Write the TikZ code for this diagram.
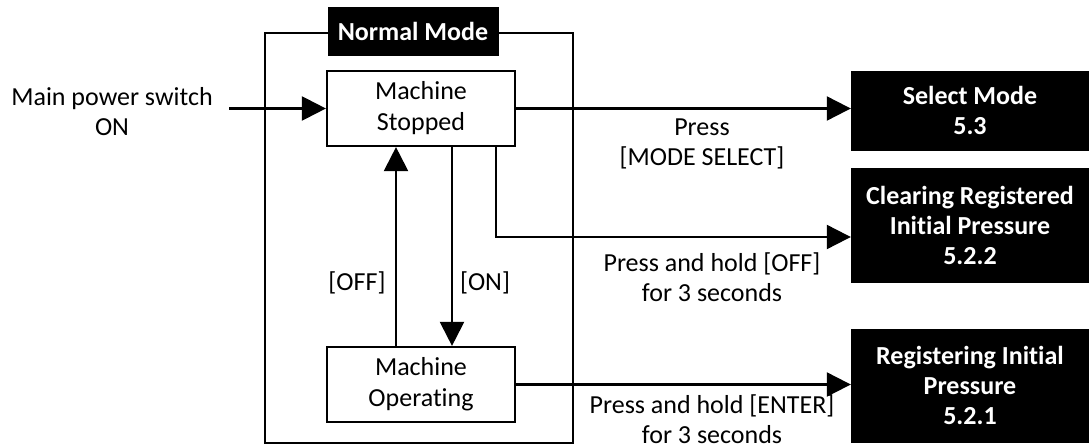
\documentclass[tikz,border=0pt]{standalone}
\usepackage{fontspec}
\setmainfont[Ligatures={NoCommon}]{Carlito}
\usetikzlibrary{arrows.meta,calc}
\begin{document}
\begin{tikzpicture}[x=1pt,y=-1pt,
  lw/.style={line width=2.2pt},
  arr/.style={lw,-{Triangle[length=24pt,width=24pt]}},
  state/.style={draw,lw,fill=white,minimum width=188pt,minimum height=75pt,align=center,font=\fontsize{26}{31}\selectfont,inner sep=0pt},
  dest/.style={draw=black,fill=black,text=white,align=center,font=\fontsize{26}{30}\selectfont\bfseries,inner sep=0pt,minimum width=238pt},
  lbl/.style={align=center,font=\fontsize{26}{30}\selectfont,inner sep=0pt}]
\useasboundingbox (0,0) rectangle (1089,446);
\node[draw,lw,minimum width=308pt,minimum height=410pt,inner sep=0pt] (frame) at (419,238) {};
\node[dest,minimum width=170pt,minimum height=48pt] (nm) at (413,31) {Normal Mode};
\node[state] (stop) at (421,108.5) {Machine\\Stopped};
\node[state] (oper) at (421,384.5) {Machine\\Operating};
\node[dest,minimum height=79pt] (sel) at (970,110.5) {Select Mode\\5.3};
\node[dest,minimum height=114pt] (clr) at (970,225) {Clearing Registered\\Initial Pressure\\5.2.2};
\node[dest,minimum height=113pt] (reg) at (970,385.5) {Registering Initial\\Pressure\\5.2.1};
\node[lbl] (mps) at (112,112) {Main power switch\\ON};
\coordinate (start) at (229,108.5);
\coordinate (xoff) at (396,0);
\coordinate (xon) at (452,0);
\coordinate (xclr) at (496,0);
\draw[arr] (start) -- (stop.west);
\draw[arr] (stop.east) -- (stop.east -| sel.west);
\draw[arr] (stop.south -| xclr) |- ($(clr.west)+(0,12)$);
\draw[arr] (oper.east) -- (oper.east -| reg.west);
\draw[arr] (oper.north -| xoff) -- (stop.south -| xoff);
\draw[arr] (stop.south -| xon) -- (oper.north -| xon);
\node[lbl] (loff) at (357,283) {[OFF]};
\node[lbl] (lon) at (485,283) {[ON]};
\node[lbl] (lsel) at (702,144) {Press\\{[}MODE SELECT{]}};
\node[lbl] (lclr) at (712,277) {Press and hold [OFF]\\for 3 seconds};
\node[lbl] (lreg) at (712,419) {Press and hold [ENTER]\\for 3 seconds};
\end{tikzpicture}
\end{document}
